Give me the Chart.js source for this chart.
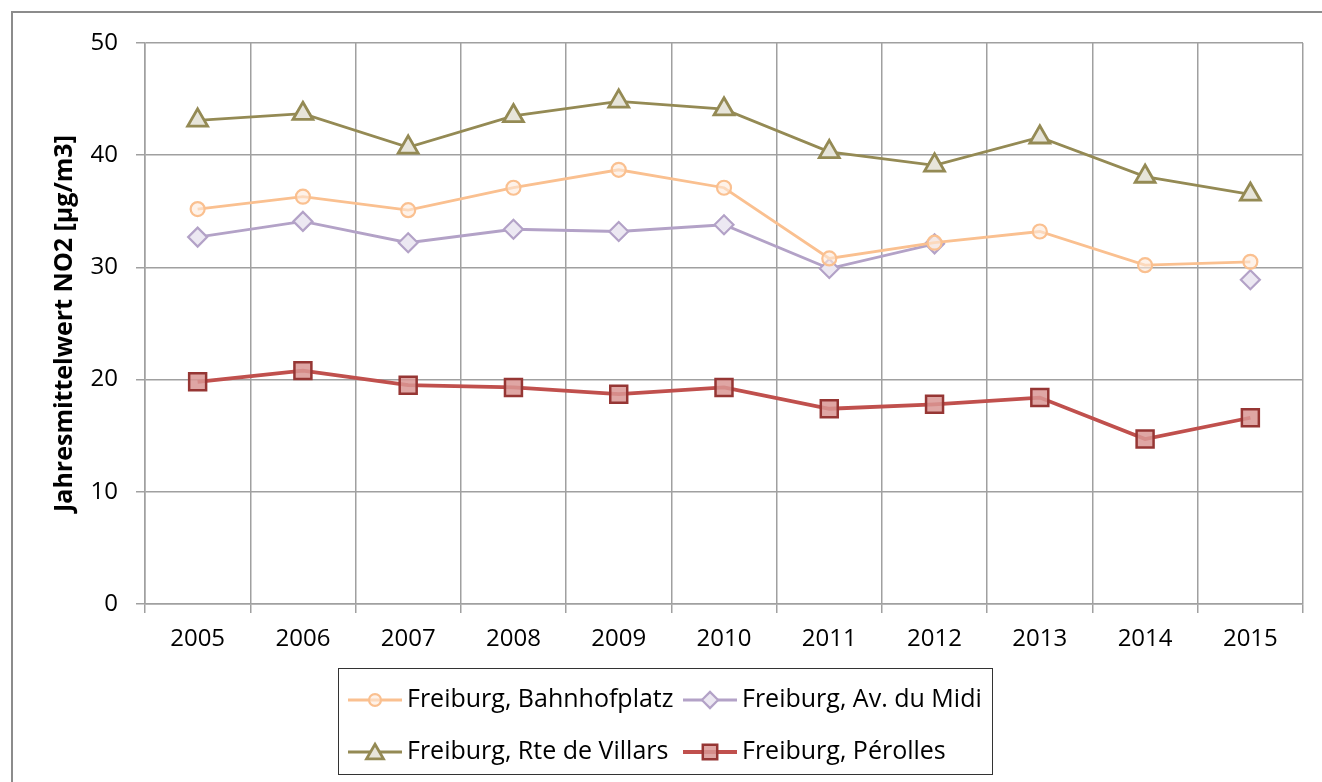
<!DOCTYPE html>
<html>
<head>
<meta charset="utf-8">
<script src="https://cdn.jsdelivr.net/npm/chart.js@4"></script>
<style>
  body { margin: 0; background: #fff; }
  #wrap { position: relative; width: 1322px; height: 782px; }
  #frame { position: absolute; left: 11px; top: 11px; width: 1400px; height: 900px;
           border-left: 2px solid #8c8c8c; border-top: 2px solid #8c8c8c; pointer-events: none; }
</style>
</head>
<body>
<div id="wrap">
  <canvas id="chart" width="1322" height="782"></canvas>
  <div id="frame"></div>
</div>
<script>
// Data
const years = ['2005', '2006', '2007', '2008', '2009', '2010', '2011', '2012', '2013', '2014', '2015'];
const bahnhofplatz = [35.2, 36.3, 35.1, 37.1, 38.7, 37.1, 30.8, 32.2, 33.2, 30.2, 30.5];
const avDuMidi = [32.7, 34.1, 32.2, 33.4, 33.2, 33.8, 29.9, 32.1, null, null, 28.9];
const rteDeVillars = [43.1, 43.7, 40.7, 43.5, 44.8, 44.1, 40.3, 39.1, 41.6, 38.1, 36.5];
const perolles = [19.8, 20.8, 19.5, 19.3, 18.7, 19.3, 17.4, 17.8, 18.4, 14.7, 16.6];
const yTicks = [0, 10, 20, 30, 40, 50];

const FONT = '"Open Sans", Lato, sans-serif';

// Excel-style boxed legend, two columns
const boxLegend = {
    id: 'boxLegend',
    afterDraw(chart) {
        const ctx = chart.ctx;
        ctx.save();
        ctx.strokeStyle = '#333';
        ctx.lineWidth = 1;
        ctx.strokeRect(338.5, 668.5, 654, 106);
        const cols = [348, 683];
        const rows = [700, 752];
        chart.data.datasets.forEach((ds, i) => {
            const x = cols[i % 2];
            const y = rows[Math.floor(i / 2)];
            ctx.strokeStyle = ds.borderColor;
            ctx.lineWidth = ds.borderWidth;
            ctx.beginPath();
            ctx.moveTo(x, y);
            ctx.lineTo(x + 54, y);
            ctx.stroke();
            ctx.fillStyle = ds.pointBackgroundColor;
            ctx.strokeStyle = ds.pointBorderColor;
            ctx.lineWidth = ds.pointBorderWidth;
            Chart.helpers.drawPoint(ctx, {
                pointStyle: ds.pointStyle,
                rotation: 0,
                radius: ds.pointRadius * 0.85,
                borderWidth: ds.pointBorderWidth
            }, x + 27, y + (ds.pointStyle === 'triangle' ? 2 : 0));
            ctx.fillStyle = '#000';
            ctx.font = '25px ' + FONT;
            ctx.textBaseline = 'middle';
            ctx.fillText(ds.label, x + 59, y);
        });
        ctx.restore();
    }
};

const ctx = document.getElementById('chart').getContext('2d');
new Chart(ctx, {
    type: 'line',
    data: {
        labels: years,
        datasets: [
            {
                label: 'Freiburg, Bahnhofplatz',
                data: bahnhofplatz,
                borderColor: '#fac090',
                borderWidth: 2.8,
                pointStyle: 'circle',
                pointRadius: 7,
                pointBackgroundColor: 'rgba(253,234,218,0.6)',
                pointBorderColor: '#fac090',
                pointBorderWidth: 2.2
            },
            {
                label: 'Freiburg, Av. du Midi',
                data: avDuMidi,
                borderColor: '#b3a2c7',
                borderWidth: 2.8,
                pointStyle: 'rectRot',
                pointRadius: 9.5,
                pointBackgroundColor: '#ece8f2',
                pointBorderColor: '#b3a2c7',
                pointBorderWidth: 2.2
            },
            {
                label: 'Freiburg, Rte de Villars',
                data: rteDeVillars,
                borderColor: '#948a54',
                borderWidth: 2.8,
                pointStyle: 'triangle',
                pointRadius: 11.5,
                pointBackgroundColor: '#e7e5da',
                pointBorderColor: '#948a54',
                pointBorderWidth: 2.8
            },
            {
                label: 'Freiburg, Pérolles',
                data: perolles,
                borderColor: '#c0504d',
                borderWidth: 3.8,
                pointStyle: 'rect',
                pointRadius: 12,
                pointBackgroundColor: 'rgba(217,150,148,0.85)',
                pointBorderColor: '#963634',
                pointBorderWidth: 2.5
            }
        ]
    },
    options: {
        responsive: false,
        animation: false,
        spanGaps: false,
        layout: { padding: { left: 50, top: 43, right: 19, bottom: 118 } },
        plugins: {
            legend: { display: false },
            tooltip: { enabled: false }
        },
        scales: {
            x: {
                offset: true,
                grid: { offset: true, color: '#a0a0a0', lineWidth: 1.5, tickLength: 9 },
                border: { color: '#a0a0a0', width: 1.5 },
                ticks: { color: '#000', font: { family: FONT, size: 24 }, padding: 12, maxRotation: 0 },
                afterFit(scale) { scale.height = 60; }
            },
            y: {
                min: 0,
                max: 50,
                afterBuildTicks(scale) { scale.ticks = yTicks.map(v => ({ value: v })); },
                grid: { color: '#a0a0a0', lineWidth: 1.5, tickLength: 9 },
                border: { color: '#a0a0a0', width: 1.5 },
                ticks: { color: '#000', font: { family: FONT, size: 24 }, padding: 18 },
                title: {
                    display: true,
                    text: 'Jahresmittelwert NO2 [µg/m3]',
                    color: '#000',
                    font: { family: FONT, size: 25, weight: 'bold' },
                    padding: { top: 0, bottom: 0 }
                },
                afterFit(scale) { scale.width = 95; }
            }
        }
    },
    plugins: [boxLegend]
});
</script>
</body>
</html>
